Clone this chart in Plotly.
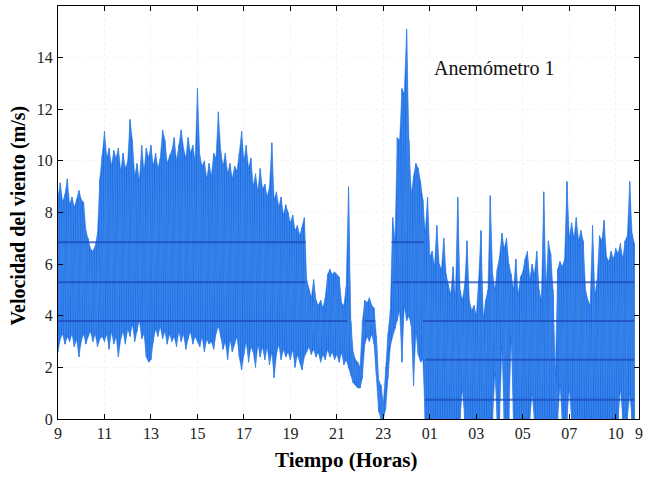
import numpy as np
import plotly.graph_objects as go

# ---------------- data ----------------
# sampling grid: hours since 00:00 of day 1, every 0.1 h from 9.0 to 33.8
t_start, t_step = 9.0, 0.1

# upper envelope (m/s) per 0.1 h
v_hi = [
    # 9.0 - 9.9
    8.6, 9.15, 8.4, 8.7, 9.3, 8.3, 8.6, 8.2, 8.5, 8.85,
    # 10.0 - 10.9
    8.5, 8.4, 7.3, 7.0, 6.6, 6.5, 6.7, 7.2, 9.3, 10.2,
    # 11
    11.15, 10.1, 10.5, 9.8, 10.4, 10.1, 10.5, 9.6, 10.3, 9.7,
    # 12
    10.0, 11.6, 10.8, 9.4, 9.9, 9.2, 10.6, 9.6, 10.5, 10.1,
    # 13
    10.6, 9.8, 10.3, 9.7, 10.1, 11.2, 10.8, 9.9, 10.2, 10.4,
    # 14
    10.9, 10.0, 10.6, 11.2, 10.5, 10.1, 10.9, 10.3, 10.6, 10.0,
    # 15
    12.8, 10.2, 9.8, 10.0, 9.3, 9.9, 9.4, 10.3, 10.1, 11.9,
    # 16
    10.4, 9.8, 10.3, 9.5, 9.9, 9.3, 9.8, 9.6, 10.3, 11.15,
    # 17
    10.0, 10.6, 9.7, 10.1, 9.0, 9.5, 8.8, 9.7, 8.9, 9.1,
    # 18
    8.6, 9.0, 10.7, 8.5, 8.8, 8.2, 8.6, 7.9, 8.3, 8.0,
    # 19
    7.6, 7.9, 7.3, 7.5, 7.1, 7.4, 7.8, 5.4, 5.0, 4.7,
    # 20
    5.4, 4.6, 4.4, 4.6, 4.3, 4.7, 5.6, 5.8, 5.6, 5.7,
    # 21
    5.6, 5.5, 4.5, 4.4, 5.1, 9.0, 3.8, 2.6, 2.3, 2.2,
    # 22
    2.0, 3.8, 4.6, 4.5, 4.7, 4.4, 4.3, 3.2, 1.5, 1.3,
    # 23
    0.6, 2.0, 3.3, 4.2, 7.8, 6.9, 10.9, 10.8, 12.8, 12.6,
    # 24 (00h)
    15.1, 10.8, 8.7, 9.4, 9.9, 9.7, 9.2, 8.5, 7.2, 8.6,
    # 25 (01h)
    6.3, 6.5, 5.9, 7.5, 6.0, 5.8, 7.0, 5.6, 5.2, 4.8,
    # 26 (02h)
    5.9, 4.7, 8.6, 5.0, 4.6, 5.2, 6.9, 4.6, 4.2, 4.4,
    # 27 (03h)
    4.0, 5.4, 7.3, 3.9, 4.6, 5.0, 8.65, 5.6, 5.0, 5.8,
    # 28 (04h)
    6.3, 7.2, 6.6, 7.0, 6.0, 5.6, 5.0, 6.2, 4.8, 5.5,
    # 29 (05h)
    5.7, 6.2, 6.5, 5.4, 6.0, 5.6, 6.5, 5.0, 4.6, 8.8,
    # 30 (06h)
    5.0, 6.9, 6.4, 5.0, 1.65, 5.8, 6.1, 5.9, 6.2, 9.2,
    # 31 (07h)
    7.0, 7.6, 7.0, 7.8, 6.9, 7.3, 6.9, 5.0, 4.6, 4.4,
    # 32 (08h)
    7.5, 4.8, 5.4, 7.1, 6.9, 7.7, 6.3, 6.1, 6.5, 6.2,
    # 33 (09h) - 33.8
    6.6, 6.4, 6.8, 6.2, 6.9, 7.1, 9.2, 7.2, 6.8,
]

# lower envelope (m/s) per 0.1 h
v_lo = [
    # 9
    2.6, 3.1, 3.3, 2.9, 3.2, 3.0, 3.3, 2.8, 3.1, 2.4,
    # 10
    3.0, 3.3, 2.9, 3.2, 3.4, 3.0, 3.3, 2.8, 3.1, 3.2,
    # 11
    3.0, 3.3, 2.7, 3.4, 2.9, 3.2, 2.4, 3.1, 3.4, 2.9,
    # 12
    3.5, 3.2, 3.7, 3.0, 3.4, 3.85, 3.1, 3.3, 2.4, 2.2,
    # 13
    2.3, 3.0, 3.5, 3.2, 3.6, 3.1, 3.4, 2.9, 3.3, 3.0,
    # 14
    3.2, 2.8, 3.4, 3.0, 3.3, 2.7, 3.1, 3.4, 2.9, 3.2,
    # 15
    3.0, 2.8, 3.2, 2.6, 3.1, 2.9, 3.0, 2.7, 3.3, 3.6,
    # 16
    3.2, 2.7, 3.0, 2.3, 3.1, 2.6, 2.9, 3.2, 2.4, 1.9,
    # 17
    2.5, 3.0, 2.2, 2.8, 2.6, 2.0, 2.9, 2.4, 2.8, 2.3,
    # 18
    2.8, 2.1, 2.6, 1.6, 2.5, 2.9, 2.3, 2.7, 2.4, 2.6,
    # 19
    2.3, 2.7, 2.0, 2.5, 2.2, 1.9, 2.4, 2.6, 2.8, 2.5,
    # 20
    2.7, 2.4, 2.6, 2.2, 2.5, 2.3, 2.7, 2.4, 2.6, 2.3,
    # 21
    2.5, 2.2, 2.6, 2.1, 2.3, 2.0, 1.7, 1.4, 1.3, 1.2,
    # 22
    1.2, 1.6, 2.9, 3.2, 3.0, 3.3, 2.9, 1.8, 0.3, 0.0,
    # 23
    0.0, 0.4, 1.6, 2.8, 3.2, 3.5, 3.8, 4.2, 2.2, 4.4,
    # 24
    3.8, 4.0, 3.6, 1.3, 3.4, 2.5, 2.2, 2.3, 0.0, 0.0,
    # 25
    0.0, 0.0, 0.0, 0.0, 0.0, 0.0, 0.0, 0.0, 0.0, 0.0,
    # 26
    0.0, 0.0, 0.0, 0.0, 1.2, 0.0, 0.0, 0.0, 0.0, 0.0,
    # 27
    0.0, 0.0, 0.0, 0.0, 0.0, 0.0, 0.0, 0.0, 1.8, 0.0,
    # 28
    0.0, 2.8, 0.0, 0.0, 0.0, 3.2, 0.0, 0.0, 0.0, 0.0,
    # 29
    0.0, 0.0, 0.0, 0.0, 1.0, 0.0, 0.0, 0.0, 0.0, 0.0,
    # 30
    0.0, 0.0, 0.0, 0.0, 0.0, 0.0, 1.3, 0.0, 0.0, 0.0,
    # 31
    1.2, 0.0, 0.0, 0.0, 0.0, 0.0, 0.0, 0.0, 0.0, 0.0,
    # 32
    0.0, 0.0, 0.0, 0.0, 0.0, 0.0, 0.0, 0.0, 0.0, 0.0,
    # 33
    0.0, 0.0, 1.2, 0.0, 0.0, 0.0, 1.0, 0.0, 0.0,
]

# dense (quantised) levels seen as darker bands: level, start hour, end hour
band_level = [6.85, 6.85, 5.3, 5.3, 3.8, 3.8, 3.8, 2.3, 0.75]
band_start = [9.0, 23.35, 9.0, 23.4, 9.0, 22.2, 24.7, 24.8, 24.8]
band_end = [19.65, 24.75, 19.65, 33.8, 21.45, 22.65, 33.8, 33.8, 33.8]

# axis ticks
x_tickvals = [9, 11, 13, 15, 17, 19, 21, 23, 25, 27, 29, 31, 33, 34]
x_ticktext = ["9", "11", "13", "15", "17", "19", "21", "23", "01", "03",
              "05", "07", "10", "9"]
y_tickvals = [0, 2, 4, 6, 8, 10, 12, 14]

# ---------------- build figure ----------------
n = len(v_hi)
t = list(np.round(t_start + t_step * np.arange(n), 2))

# filled band between the envelopes
fx = t + t[::-1]
fy = list(v_hi) + list(v_lo)[::-1]

# zig-zag trace between envelopes (dense signal look)
xs, ys = [], []
for ti, lo, hi in zip(t, v_lo, v_hi):
    xs += [ti, ti]
    ys += [lo, hi]

bx, by = [], []
for lv, s, e in zip(band_level, band_start, band_end):
    bx += [s, e, None]
    by += [lv, lv, None]

body = "#1f70e6"
fig = go.Figure()
fig.add_trace(go.Scatter(x=fx, y=fy, mode="lines", fill="toself",
                         fillcolor=body, line=dict(color=body, width=0.5),
                         hoverinfo="skip", showlegend=False))
fig.add_trace(go.Scatter(x=xs, y=ys, mode="lines",
                         line=dict(color="#3a84ea", width=1),
                         hoverinfo="skip", showlegend=False))
fig.add_trace(go.Scatter(x=bx, y=by, mode="lines",
                         line=dict(color="#1b49b8", width=2),
                         opacity=0.75, hoverinfo="skip", showlegend=False))

serif = "Liberation Serif, Times New Roman, serif"
axis_common = dict(showline=True, linecolor="black", linewidth=1, mirror="ticks",
                   ticks="inside", ticklen=5, tickcolor="black", zeroline=False,
                   showgrid=True, gridcolor="#f3f3f3", griddash="dot",
                   tickfont=dict(family=serif, size=16, color="#222"))

fig.update_layout(
    width=648, height=477,
    margin=dict(l=58, r=6, t=5, b=58),
    paper_bgcolor="white", plot_bgcolor="white",
    xaxis=dict(range=[9, 34], tickvals=x_tickvals, ticktext=x_ticktext,
               **axis_common),
    yaxis=dict(range=[0, 16], tickvals=y_tickvals, ticklabelstandoff=1,
               **axis_common),
    annotations=[
        dict(text="Anemómetro 1", xref="paper", yref="paper", x=0.752, y=0.85,
             xanchor="center", yanchor="middle", showarrow=False,
             font=dict(family=serif, size=20, color="#111")),
        dict(text="<b>Tiempo (Horas)</b>", xref="paper", yref="paper",
             x=0.4966, y=-0.099, xanchor="center", yanchor="middle",
             showarrow=False, font=dict(family=serif, size=21, color="black")),
        dict(text="<b>Velocidad del viento (m/s)</b>", xref="paper", yref="paper",
             x=-0.0685, y=0.493, xanchor="center", yanchor="middle",
             textangle=-90, showarrow=False,
             font=dict(family=serif, size=20, color="black")),
    ],
)

fig.write_html("out.html")
